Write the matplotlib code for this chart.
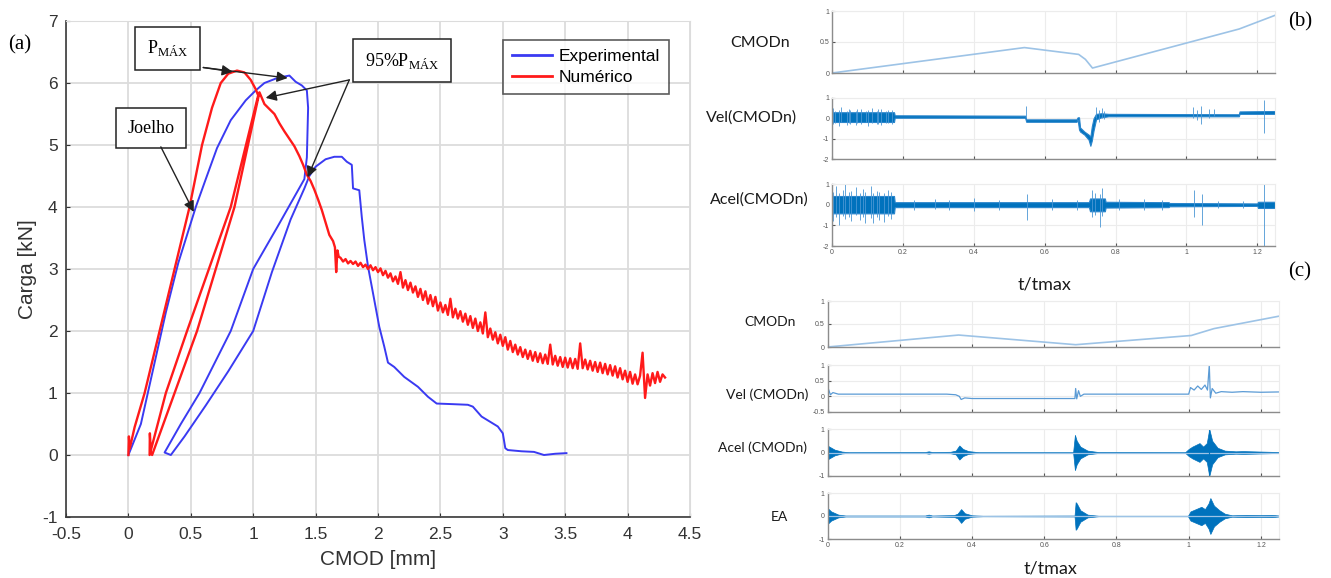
import numpy as np
import matplotlib
matplotlib.use('Agg')
import matplotlib.pyplot as plt
from matplotlib.ticker import FormatStrFormatter

plt.rcParams['font.family'] = ['Liberation Sans', 'DejaVu Sans']
plt.rcParams['mathtext.fontset'] = 'custom'
plt.rcParams['mathtext.rm'] = 'Liberation Serif'
plt.rcParams['axes.unicode_minus'] = False

# ---------------- (a) Carga x CMOD ----------------
exp_x = [0.00, 0.10, 0.20, 0.30, 0.40, 0.54, 0.62, 0.71, 0.82, 0.94, 1.02, 1.09, 1.18, 1.24, 1.29,
         1.34, 1.39, 1.43, 1.44, 1.43, 1.41,
         1.20, 1.00, 0.82, 0.57, 0.42, 0.29,
         0.34, 0.45, 0.62, 0.80, 1.00, 1.15, 1.30, 1.41, 1.45, 1.50, 1.58, 1.65, 1.71, 1.75, 1.79,
         1.80, 1.85, 1.87, 1.89, 1.92, 1.96, 2.01, 2.05, 2.08, 2.13, 2.21, 2.32, 2.40, 2.47,
         2.60, 2.72, 2.76, 2.83, 2.96, 3.00, 3.02, 3.04, 3.15, 3.25, 3.33, 3.42, 3.51]
exp_y = [0.00, 0.50, 1.40, 2.30, 3.10, 4.00, 4.45, 4.95, 5.40, 5.72, 5.88, 6.00, 6.07, 6.10, 6.12,
         6.02, 5.96, 5.88, 5.60, 4.80, 4.45,
         3.70, 3.00, 2.00, 1.00, 0.50, 0.04,
         0.00, 0.30, 0.80, 1.35, 2.00, 2.95, 3.80, 4.30, 4.50, 4.65, 4.77, 4.81, 4.81, 4.73, 4.68,
         4.30, 4.27, 3.84, 3.47, 3.04, 2.61, 2.07, 1.75, 1.49, 1.42, 1.26, 1.10, 0.94, 0.83,
         0.82, 0.81, 0.78, 0.62, 0.46, 0.35, 0.11, 0.08, 0.06, 0.05, 0.00, 0.02, 0.03]

num_x = [0.000, 0.004, 0.010, 0.050, 0.130, 0.250, 0.370, 0.490, 0.590, 0.670, 0.740, 0.800, 0.870,
         0.930, 0.980, 1.020, 1.040,
         0.820, 0.470, 0.300, 0.170, 0.172, 0.180, 0.190,
         0.550, 0.850, 1.050,
         1.090, 1.130, 1.170, 1.210, 1.250, 1.290, 1.330, 1.370, 1.400, 1.430, 1.460, 1.490, 1.520,
         1.550, 1.580, 1.610, 1.640, 1.655, 1.665, 1.675, 1.685]
num_y = [0.00, 0.30, 0.10, 0.45, 1.00, 2.00, 3.00, 4.00, 5.00, 5.60, 6.00, 6.15, 6.20,
         6.17, 6.05, 5.90, 5.80,
         4.00, 2.00, 1.00, 0.00, 0.35, 0.05, 0.00,
         2.00, 4.00, 5.85,
         5.66, 5.58, 5.50, 5.35, 5.22, 5.10, 4.98, 4.82, 4.68, 4.52, 4.42, 4.28, 4.12,
         3.95, 3.75, 3.55, 3.45, 3.35, 2.95, 3.30, 3.20]
# noisy tail, one value every 0.02 mm from 1.70 to 4.30
tail_x = np.round(np.arange(1.70, 4.301, 0.02), 2)
tail_y = [3.18, 3.12, 3.16, 3.09, 3.13, 3.08, 3.12, 3.05, 3.10, 3.03,
          3.07, 3.00, 3.06, 2.98, 3.03, 2.95, 3.01, 2.90, 2.97, 2.86,
          2.93, 2.80, 2.88, 2.76, 2.95, 2.70, 2.82, 2.66, 2.78, 2.62,
          2.72, 2.55, 2.68, 2.50, 2.64, 2.44, 2.58, 2.40, 2.55, 2.33,
          2.46, 2.30, 2.42, 2.26, 2.52, 2.22, 2.36, 2.20, 2.32, 2.15,
          2.28, 2.10, 2.24, 2.05, 2.20, 2.00, 2.14, 1.96, 2.30, 1.90,
          2.04, 1.86, 1.98, 1.80, 1.94, 1.76, 1.90, 1.70, 1.84, 1.66,
          1.78, 1.62, 1.74, 1.58, 1.70, 1.55, 1.68, 1.52, 1.66, 1.50,
          1.64, 1.48, 1.62, 1.47, 1.78, 1.46, 1.60, 1.44, 1.58, 1.42,
          1.57, 1.41, 1.56, 1.40, 1.55, 1.39, 1.80, 1.40, 1.54, 1.38,
          1.52, 1.36, 1.50, 1.34, 1.49, 1.32, 1.47, 1.30, 1.45, 1.28,
          1.43, 1.25, 1.40, 1.22, 1.36, 1.18, 1.34, 1.15, 1.30, 1.14,
          1.28, 1.65, 0.92, 1.30, 1.12, 1.32, 1.16, 1.34, 1.18, 1.30,
          1.25]

# ---------------- (b) ----------------
cmod_b_t = [0.0, 0.543, 0.696, 0.715, 0.735, 1.149, 1.25]
cmod_b_v = [0.0, 0.41, 0.30, 0.22, 0.08, 0.71, 0.93]

vel_b_t = [0.000, 0.175, 0.177, 0.545, 0.548, 0.690, 0.693, 0.697, 0.700, 0.712, 0.724, 0.729,
           0.733, 0.738, 0.745, 0.760, 0.780, 1.148, 1.150, 1.250]
vel_b_hi = [0.30, 0.30, 0.15, 0.13, -0.05, -0.05, 0.05, 0.05, -0.45, -0.65, -0.80, -0.90,
            -0.40, 0.00, 0.22, 0.25, 0.22, 0.20, 0.34, 0.36]
vel_b_lo = [-0.18, -0.18, 0.03, 0.03, -0.17, -0.17, -0.05, -0.55, -0.65, -0.80, -1.05, -1.35,
            -1.10, -0.60, -0.05, 0.05, 0.10, 0.10, 0.22, 0.22]
vel_b_spk_t = [0.003, 0.009, 0.021, 0.026, 0.041, 0.047, 0.052, 0.067, 0.071, 0.083, 0.097, 0.101,
               0.112, 0.126, 0.131, 0.139, 0.151, 0.158, 0.169,
               0.546, 0.745, 0.752, 0.763, 0.768, 1.018, 1.031, 1.041, 1.063, 1.079, 1.218]
vel_b_spk_lo = [-0.30, -0.25, -0.40, -0.20, -0.32, -0.22, -0.28, -0.35, -0.24, -0.30, -0.20,
                -0.38, -0.22, -0.27, -0.30, -0.33, -0.25, -0.22, -0.30,
                0.0, 0.0, -0.20, 0.0, -0.05, 0.0, -0.10, -0.30, 0.0, 0.10, -0.70]
vel_b_spk_hi = [0.50, 0.38, 0.42, 0.55, 0.36, 0.45, 0.40, 0.35, 0.44, 0.48, 0.38,
                0.42, 0.50, 0.36, 0.45, 0.48, 0.38, 0.42, 0.40,
                0.60, 0.55, 0.40, 0.50, 0.35, 0.55, 0.40, 0.60, 0.45, 0.45, 0.90]

acel_b_t = [0.000, 0.175, 0.177, 0.725, 0.728, 0.770, 0.772, 0.950, 0.952, 1.200, 1.202, 1.250]
acel_b_hi = [0.42, 0.42, 0.12, 0.12, 0.30, 0.30, 0.14, 0.12, 0.08, 0.06, 0.14, 0.14]
acel_b_lo = [-0.42, -0.42, -0.12, -0.12, -0.32, -0.32, -0.14, -0.12, -0.08, -0.06, -0.16, -0.16]
acel_b_spk_t = [0.004, 0.011, 0.019, 0.031, 0.036, 0.049, 0.053, 0.068, 0.079, 0.088, 0.093,
                0.109, 0.117, 0.128, 0.134, 0.147, 0.158, 0.167,
                0.23, 0.29, 0.33, 0.40, 0.47, 0.551, 0.62, 0.69,
                0.733, 0.741, 0.756, 0.762, 0.81, 0.88, 0.93,
                1.021, 1.043, 1.09, 1.16, 1.218]
acel_b_spk_lo = [-0.80, -0.60, -1.00, -0.55, -0.70, -0.62, -0.80, -0.50, -0.72, -0.60, -0.90,
                 -0.65, -0.90, -0.58, -0.75, -0.85, -0.55, -0.70,
                 -0.25, -0.22, -0.28, -0.30, -0.24, -0.75, -0.25, -0.25,
                 -0.60, -0.50, -1.10, -0.55, -0.28, -0.25, -0.26,
                 -0.60, -1.00, -0.18, -0.16, -2.00]
acel_b_spk_hi = [0.60, 0.90, 0.55, 0.70, 1.00, 0.60, 0.65, 0.85, 0.58, 0.75, 0.62,
                 0.90, 0.55, 0.68, 0.60, 0.55, 0.70, 0.62,
                 0.25, 0.28, 0.22, 0.30, 0.25, 0.50, 0.26, 0.24,
                 0.70, 0.55, 0.50, 0.80, 0.28, 0.26, 0.25,
                 0.70, 0.50, 0.20, 0.16, 1.00]

# ---------------- (c) ----------------
cmod_c_t = [0.0, 0.363, 0.687, 1.007, 1.07, 1.25]
cmod_c_v = [0.0, 0.26, 0.05, 0.25, 0.40, 0.67]

vel_c_t = [0.0, 0.003, 0.008, 0.015, 0.03, 0.33, 0.355, 0.365, 0.37, 0.38, 0.40, 0.685, 0.687,
           0.690, 0.695, 0.70, 0.71, 1.0, 1.005, 1.015, 1.025, 1.035, 1.045, 1.052, 1.057, 1.060,
           1.065, 1.075, 1.09, 1.12, 1.15, 1.20, 1.25]
vel_c_v = [0.07, 0.22, 0.05, 0.12, 0.07, 0.07, 0.05, 0.0, -0.1, -0.05, -0.07, -0.07, 0.25,
           -0.08, 0.18, 0.0, 0.07, 0.07, 0.28, 0.20, 0.33, 0.22, 0.36, 0.20, 1.0, -0.05,
           0.25, 0.10, 0.15, 0.13, 0.15, 0.13, 0.14]

acel_c_t = [0.0, 0.005, 0.02, 0.04, 0.06, 0.27, 0.28, 0.29, 0.34, 0.355, 0.365, 0.375, 0.39, 0.42,
            0.68, 0.685, 0.69, 0.70, 0.72, 0.75, 0.99, 1.0, 1.01, 1.03, 1.04, 1.05, 1.057, 1.065,
            1.08, 1.10, 1.13, 1.15, 1.20, 1.25]
acel_c_a = [0.30, 0.25, 0.12, 0.04, 0.01, 0.02, 0.05, 0.02, 0.03, 0.08, 0.30, 0.15, 0.06, 0.01,
            0.01, 0.75, 0.50, 0.25, 0.08, 0.02, 0.01, 0.15, 0.25, 0.40, 0.25, 0.40, 1.00, 0.50,
            0.20, 0.08, 0.05, 0.06, 0.04, 0.02]

ea_t = [0.0, 0.01, 0.03, 0.05, 0.27, 0.28, 0.29, 0.35, 0.36, 0.37, 0.38, 0.40, 0.43, 0.684, 0.687,
        0.69, 0.70, 0.72, 0.75, 0.998, 1.005, 1.02, 1.035, 1.045, 1.055, 1.06, 1.07, 1.085, 1.10,
        1.12, 1.16, 1.20, 1.23, 1.25]
ea_a = [0.35, 0.20, 0.06, 0.02, 0.02, 0.06, 0.02, 0.04, 0.10, 0.30, 0.12, 0.03, 0.01, 0.02, 0.60,
        0.55, 0.25, 0.06, 0.01, 0.01, 0.20, 0.30, 0.40, 0.30, 0.55, 0.78, 0.45, 0.25, 0.10,
        0.03, 0.05, 0.04, 0.05, 0.02]

W, H = 1331, 578
fig = plt.figure(figsize=(W / 100, H / 100), dpi=100)


def px_axes(l, t, r, b):
    return fig.add_axes([l / W, 1 - b / H, (r - l) / W, (b - t) / H])


# ---------- panel (a) ----------
ax = px_axes(66, 21, 690, 517)
ax.plot(exp_x, exp_y, color='#3a3af2', lw=1.4, label='Experimental')
ax.plot(num_x + list(tail_x), num_y + tail_y, color='#ff1a1a', lw=1.7, label='Numérico')
ax.set_xlim(-0.5, 4.5)
ax.set_ylim(-1, 7)
ax.set_xticks(np.arange(-0.5, 4.51, 0.5))
ax.set_yticks(range(-1, 8))
ax.xaxis.set_major_formatter(FormatStrFormatter('%g'))
ax.grid(True, color='#dcdcdc', lw=1.3)
ax.set_axisbelow(True)
for s in ['top', 'right']:
    ax.spines[s].set_color('#dcdcdc')
for s in ['left', 'bottom']:
    ax.spines[s].set_color('#3a3a3a')
    ax.spines[s].set_linewidth(1.2)
ax.tick_params(direction='in', length=3, labelsize=12.5, colors='#333333')
ax.tick_params(axis='x', pad=7)
ax.tick_params(axis='y', pad=6)
ax.set_xlabel('CMOD [mm]', fontsize=15, color='#333333', labelpad=6)
ax.set_ylabel('Carga [kN]', fontsize=15, color='#333333', labelpad=4)
leg = ax.legend(loc='upper right', bbox_to_anchor=(0.966, 0.962), borderaxespad=0, fontsize=12.5,
                fancybox=False, handlelength=2.3, handletextpad=0.4, borderpad=0.5, labelspacing=0.35)
leg.get_frame().set_edgecolor('#333333')
leg.get_frame().set_linewidth(1.2)
for h in leg.get_lines():
    h.set_linewidth(2)

serif = ['Liberation Serif', 'DejaVu Serif']
boxp = dict(boxstyle='square,pad=0.65', fc='white', ec='#222222', lw=1.1)
arr = dict(arrowstyle='-|>', color='#222222', lw=1.0, mutation_scale=16, shrinkA=0, shrinkB=0)
ax.text(0.312, 6.56, r'P$_{\mathrm{MÁX}}$', family=serif, fontsize=13, ha='center', va='center', bbox=boxp)
ax.text(2.19, 6.36, r'95%P$_{\mathrm{MÁX}}$', family=serif, fontsize=13, ha='center', va='center', bbox=boxp)
ax.text(0.18, 5.27, 'Joelho', family=serif, fontsize=13, ha='center', va='center', bbox=boxp)
ax.annotate('', xy=(0.836, 6.18), xytext=(0.60, 6.25), arrowprops=arr)
ax.annotate('', xy=(1.276, 6.08), xytext=(0.60, 6.25), arrowprops=arr)
ax.annotate('', xy=(1.10, 5.76), xytext=(1.77, 6.05), arrowprops=arr)
ax.annotate('', xy=(1.436, 4.48), xytext=(1.77, 6.05), arrowprops=arr)
ax.annotate('', xy=(0.524, 3.92), xytext=(0.26, 4.97), arrowprops=arr)

fig.text(20 / W, 1 - 45 / H, '(a)', family=serif, fontsize=15, ha='center', va='center')

# ---------- right panels ----------
mblue = '#0072bd'
pale = '#9dc3e6'


def small_axes(a, ylim, yticks, ylabels, xlabels=False):
    a.set_xlim(0, 1.25)
    a.set_ylim(*ylim)
    a.set_xticks([0, 0.2, 0.4, 0.6, 0.8, 1.0, 1.2])
    a.set_yticks(yticks)
    a.set_yticklabels(ylabels)
    if xlabels:
        a.set_xticklabels(['0', '0.2', '0.4', '0.6', '0.8', '1', '1.2'])
    else:
        a.set_xticklabels([])
    a.grid(True, color='#ececec', lw=0.8)
    a.set_axisbelow(True)
    for s in ['top', 'right']:
        a.spines[s].set_color('#ececec')
    for s in ['left', 'bottom']:
        a.spines[s].set_color('#8c8c8c')
        a.spines[s].set_linewidth(1.0)
    a.tick_params(direction='in', length=2, labelsize=5, colors='#555555', pad=2)


lbl = dict(family=['Lato', 'DejaVu Sans'], ha='center', va='center', color='#1a1a1a')

b1 = px_axes(832, 11, 1275, 73)
b1.plot(cmod_b_t, cmod_b_v, color=pale, lw=1.2)
small_axes(b1, (0, 1), [0, 0.5, 1], ['0', '0.5', '1'])
fig.text(760 / W, 1 - 43 / H, 'CMODn', fontsize=11.5, **lbl)

b2 = px_axes(832, 98, 1275, 159)
b2.vlines(vel_b_spk_t, vel_b_spk_lo, vel_b_spk_hi, color='#4a96d4', lw=0.6)
b2.fill_between(vel_b_t, vel_b_lo, vel_b_hi, color=mblue, lw=0.8, ec='#2a85cc')
small_axes(b2, (-2, 1), [-2, -1, 0, 1], ['-2', '-1', '0', '1'])
fig.text(752 / W, 1 - 118 / H, 'Vel(CMODn)', fontsize=11.5, **lbl)

b3 = px_axes(832, 184, 1275, 246)
b3.vlines(acel_b_spk_t, acel_b_spk_lo, acel_b_spk_hi, color='#4a96d4', lw=0.6)
b3.fill_between(acel_b_t, acel_b_lo, acel_b_hi, color=mblue, lw=0.8, ec='#2a85cc')
small_axes(b3, (-2, 1), [-2, -1, 0, 1], ['-2', '-1', '0', '1'], xlabels=True)
fig.text(759 / W, 1 - 200 / H, 'Acel(CMODn)', fontsize=11.5, **lbl)
fig.text(1045 / W, 1 - 285 / H, 't/tmax', fontsize=13, **lbl)
fig.text(1300 / W, 1 - 22 / H, '(b)', family=serif, fontsize=15, ha='center', va='center')
fig.text(1300 / W, 1 - 272 / H, '(c)', family=serif, fontsize=15, ha='center', va='center')

c1 = px_axes(827.5, 301, 1279, 347)
c1.plot(cmod_c_t, cmod_c_v, color=pale, lw=1.2)
small_axes(c1, (0, 1), [0, 0.5, 1], ['0', '0.5', '1'])
fig.text(770 / W, 1 - 322 / H, 'CMODn', fontsize=10, **lbl)

c2 = px_axes(827.5, 365, 1279, 412)
c2.plot(vel_c_t, vel_c_v, color='#5b9bd5', lw=0.9)
small_axes(c2, (-0.5, 1), [-0.5, 0, 0.5, 1], ['-0.5', '0', '0.5', '1'])
fig.text(767 / W, 1 - 395 / H, 'Vel (CMODn)', fontsize=10, **lbl)

c3 = px_axes(827.5, 429, 1279, 476)
c3.axhline(0, color=pale, lw=0.9)
c3.fill_between(acel_c_t, [-a for a in acel_c_a], acel_c_a, color=mblue, lw=0.5, ec=mblue)
c3.vlines([1.057], [-1.0], [1.0], color=mblue, lw=0.8)
small_axes(c3, (-1, 1), [-1, 0, 1], ['-1', '0', '1'])
fig.text(763 / W, 1 - 448 / H, 'Acel (CMODn)', fontsize=10, **lbl)

c4 = px_axes(827.5, 493, 1279, 539)
c4.axhline(0, color=pale, lw=0.9)
c4.fill_between(ea_t, [-a for a in ea_a], ea_a, color=mblue, lw=0.5, ec=mblue)
small_axes(c4, (-1, 1), [-1, 0, 1], ['-1', '0', '1'], xlabels=True)
fig.text(779 / W, 1 - 517 / H, 'EA', fontsize=10, **lbl)
fig.text(1050 / W, 1 - 568 / H, 't/tmax', fontsize=13, **lbl)

fig.savefig('out.png', dpi=100)
